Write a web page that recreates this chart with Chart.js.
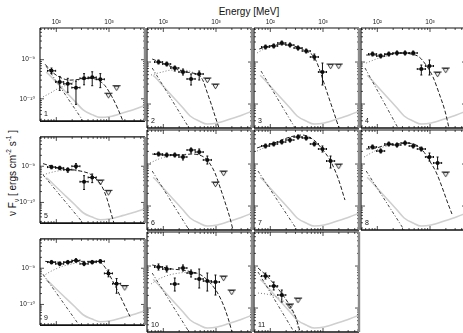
<!DOCTYPE html>
<html>
<head>
<meta charset="utf-8">
<script src="https://cdn.jsdelivr.net/npm/chart.js@4.4.0/dist/chart.umd.min.js"></script>
<style>
  body { margin: 0; background: #fff; width: 463px; height: 333px; overflow: hidden; position: relative;
         font-family: "Liberation Sans", Arial, sans-serif; color: #111; }
  canvas { position: absolute; }
  #xtitle { position: absolute; left: 249px; top: 11px; transform: translate(-50%, -50%);
            font-size: 10px; white-space: nowrap; }
  #ytitle { position: absolute; left: 12px; top: 173px; transform: translate(-50%, -50%) rotate(-90deg);
            font-size: 10px; white-space: nowrap; }
  sub, sup { font-size: 6.5px; line-height: 0; }
</style>
</head>
<body>
<div id="xtitle">Energy [MeV]</div>
<div id="ytitle">ν F<sub>ν</sub> [ ergs cm<sup>-2</sup> s<sup>-1</sup> ]</div>
<script>
// axis ranges and ticks
const X_MIN = 49, X_MAX = 4820;
const Y_MIN = 2.69e-11, Y_MAX = 6.46e-9;
const X_MAJOR = [100, 1000];
const X_LABELS = ['10²', '10³'];
const X_MINOR = [50, 60, 70, 80, 90, 200, 300, 400, 500, 600, 700, 800, 900, 2000, 3000, 4000];
const Y_MAJOR = [1e-10, 1e-9];
const Y_LABELS = ['10⁻¹⁰', '10⁻⁹'];
const Y_MINOR = [3e-11, 4e-11, 5e-11, 6e-11, 7e-11, 8e-11, 9e-11, 2e-10, 3e-10, 4e-10, 5e-10, 6e-10,
                 7e-10, 8e-10, 9e-10, 2e-9, 3e-9, 4e-9, 5e-9, 6e-9];

// energy bins (MeV)
const BIN_CENTER = [81, 116, 165, 236, 336, 480, 684, 976, 1392, 1986];
const BIN_LO = [68, 97, 138, 197, 281, 402, 573, 817, 1166, 1663];
const BIN_HI = [97, 138, 197, 281, 402, 573, 817, 1166, 1663, 2371];

// measured fluxes per panel (bins 0..n-1), with error bar ends
const FLUX = [
  [5.19e-10, 2.69e-10, 2.41e-10, 1.93e-10, 3.34e-10, 3.53e-10, 3.16e-10],
  [1.0e-9, 8.97e-10, 7.21e-10, 5.79e-10, 3.95e-10, 5.19e-10],
  [2.28e-9, 2.41e-9, 2.84e-9, 2.54e-9, 2.16e-9, 1.83e-9, 1.32e-9, 5.79e-10],
  [1.55e-9, 1.39e-9, 1.55e-9, 1.64e-9, 1.64e-9, 1.64e-9, 6.82e-10, 8.04e-10],
  [9.47e-10, 8.97e-10, 8.04e-10, 1.0e-9, 3.73e-10, 4.91e-10],
  [1.73e-9, 1.64e-9, 1.64e-9, 1.47e-9, 2.16e-9, 1.93e-9, 1.25e-9],
  [2.69e-9, 3.0e-9, 3.34e-9, 3.73e-9, 4.40e-9, 4.17e-9, 3.0e-9, 2.28e-9, 1.18e-9],
  [2.54e-9, 2.04e-9, 3.0e-9, 2.84e-9, 3.16e-9, 2.69e-9, 2.28e-9, 1.47e-9, 1.06e-9],
  [1.47e-9, 1.32e-9, 1.47e-9, 1.64e-9, 1.32e-9, 1.47e-9, 1.55e-9, 7.21e-10, 3.73e-10],
  [9.47e-10, 8.49e-10, 3.73e-10, 8.97e-10, 6.82e-10, 4.91e-10, 4.40e-10, 4.17e-10],
  [5.79e-10, 3.34e-10, 2.04e-10]
];
const FLUX_LO = [
  [4.40e-10, 1.64e-10, 1.47e-10, 7.21e-11, 2.28e-10, 2.16e-10, 1.93e-10],
  [8.97e-10, 8.04e-10, 6.11e-10, 4.91e-10, 2.84e-10, 3.73e-10],
  [2.04e-9, 2.16e-9, 2.54e-9, 2.28e-9, 1.93e-9, 1.64e-9, 1.12e-9, 2.84e-10],
  [1.39e-9, 1.25e-9, 1.39e-9, 1.47e-9, 1.47e-9, 1.47e-9, 4.91e-10, 4.91e-10],
  [8.49e-10, 8.04e-10, 6.82e-10, 8.49e-10, 2.28e-10, 3.53e-10],
  [1.55e-9, 1.47e-9, 1.47e-9, 1.25e-9, 1.83e-9, 1.73e-9, 1.0e-9],
  [2.41e-9, 2.69e-9, 3.0e-9, 3.34e-9, 3.94e-9, 3.73e-9, 2.69e-9, 1.93e-9, 8.04e-10],
  [2.28e-9, 1.83e-9, 2.69e-9, 2.54e-9, 2.84e-9, 2.41e-9, 2.04e-9, 1.18e-9, 7.61e-10],
  [1.32e-9, 1.18e-9, 1.32e-9, 1.47e-9, 1.18e-9, 1.32e-9, 1.39e-9, 5.79e-10, 2.04e-10],
  [8.04e-10, 7.21e-10, 2.54e-10, 7.61e-10, 5.48e-10, 3.0e-10, 2.54e-10, 2.04e-10],
  [4.91e-10, 2.69e-10, 1.39e-10]
];
const FLUX_HI = [
  [6.11e-10, 3.73e-10, 3.34e-10, 2.84e-10, 4.40e-10, 4.91e-10, 4.40e-10],
  [1.12e-9, 1.0e-9, 8.04e-10, 6.82e-10, 5.19e-10, 6.11e-10],
  [2.54e-9, 2.69e-9, 3.16e-9, 2.84e-9, 2.41e-9, 2.04e-9, 1.55e-9, 9.47e-10],
  [1.73e-9, 1.55e-9, 1.73e-9, 1.83e-9, 1.83e-9, 1.83e-9, 8.49e-10, 1.12e-9],
  [1.06e-9, 1.0e-9, 8.97e-10, 1.18e-9, 5.48e-10, 6.11e-10],
  [1.93e-9, 1.83e-9, 1.83e-9, 1.64e-9, 2.41e-9, 2.28e-9, 1.55e-9],
  [3.0e-9, 3.34e-9, 3.73e-9, 4.17e-9, 4.91e-9, 4.65e-9, 3.34e-9, 2.69e-9, 1.55e-9],
  [2.84e-9, 2.28e-9, 3.34e-9, 3.16e-9, 3.53e-9, 3.0e-9, 2.54e-9, 1.83e-9, 1.47e-9],
  [1.64e-9, 1.47e-9, 1.64e-9, 1.83e-9, 1.47e-9, 1.64e-9, 1.73e-9, 8.97e-10, 5.19e-10],
  [1.12e-9, 1.0e-9, 5.19e-10, 1.06e-9, 8.04e-10, 8.49e-10, 6.82e-10, 6.11e-10],
  [6.82e-10, 4.17e-10, 2.69e-10]
];

// upper limits: bin index and value
const UL_BIN = [[7, 8], [6, 7], [8, 9], [8, 9], [6, 7], [7, 8], [9], [9], [9], [8, 9], [3, 4]];
const UL_FLUX = [
  [1.39e-10, 2.16e-10], [4.17e-10, 3.0e-10], [8.97e-10, 8.97e-10], [5.79e-10, 7.21e-10],
  [4.17e-10, 2.16e-10], [3.73e-10, 6.82e-10], [1.0e-9], [6.46e-10], [3.34e-10],
  [5.79e-10, 2.69e-10], [1.25e-10, 1.73e-10]
];

// model curves [E, flux]
const TOTAL_MODEL = [
  [[61.5, 7.61e-10], [82.3, 4.91e-10], [118, 3.53e-10], [182, 3.0e-10], [282, 3.16e-10], [437, 3.34e-10],
   [622, 3.0e-10], [840, 2.16e-10], [1140, 1.12e-10], [1479, 5.48e-11], [1840, 2.69e-11]],
  [[61.5, 1.18e-9], [95.5, 9.47e-10], [147, 7.61e-10], [228, 6.11e-10], [350, 5.48e-10], [437, 5.19e-10],
   [496, 4.65e-10], [571, 3.53e-10], [676, 1.93e-10], [810, 1.0e-10], [958, 5.19e-11], [1140, 2.69e-11]],
  [[61.5, 2.04e-9], [95.5, 2.41e-9], [167, 2.69e-9], [282, 2.41e-9], [437, 1.93e-9], [676, 1.32e-9],
   [840, 7.21e-10], [1000, 3.73e-10], [1240, 1.64e-10], [1549, 7.21e-11], [2010, 2.69e-11]],
  [[61.5, 1.47e-9], [95.5, 1.47e-9], [167, 1.55e-9], [282, 1.64e-9], [437, 1.55e-9], [622, 1.32e-9],
   [840, 8.49e-10], [1140, 4.40e-10], [1479, 1.83e-10], [1925, 6.82e-11], [2290, 2.69e-11]],
  [[55.9, 1.18e-9], [82.3, 1.0e-9], [129, 8.49e-10], [200, 8.04e-10], [308, 7.21e-10], [437, 6.11e-10],
   [596, 4.17e-10], [742, 2.69e-10], [918, 1.25e-10], [1090, 5.19e-11], [1240, 2.69e-11]],
  [[61.5, 1.73e-9], [95.5, 1.64e-9], [147, 1.64e-9], [228, 1.64e-9], [337, 1.73e-9], [479, 1.64e-9],
   [622, 1.39e-9], [773, 1.0e-9], [958, 6.11e-10], [1189, 2.84e-10], [1479, 1.25e-10], [1840, 5.19e-11],
   [2100, 2.69e-11]],
  [[55.9, 2.41e-9], [82.3, 2.84e-9], [118, 3.16e-9], [182, 3.94e-9], [282, 4.65e-9], [404, 4.91e-9],
   [543, 4.40e-9], [742, 3.34e-9], [958, 2.28e-9], [1356, 1.25e-9], [1925, 4.65e-10], [2610, 1.39e-10]],
  [[61.5, 2.28e-9], [95.5, 2.41e-9], [147, 2.84e-9], [228, 3.0e-9], [350, 3.16e-9], [543, 2.84e-9],
   [742, 2.04e-9], [958, 1.25e-9], [1300, 6.46e-10], [1690, 2.84e-10], [2100, 1.32e-10], [2610, 6.46e-11]],
  [[61.5, 1.55e-9], [95.5, 1.47e-9], [147, 1.47e-9], [228, 1.55e-9], [350, 1.55e-9], [543, 1.55e-9],
   [676, 1.47e-9], [840, 1.06e-9], [1045, 6.11e-10], [1300, 3.34e-10], [1620, 1.73e-10], [2010, 8.97e-11],
   [2500, 4.65e-11]],
  [[61.5, 1.06e-9], [95.5, 9.47e-10], [147, 8.49e-10], [228, 8.04e-10], [350, 7.21e-10], [479, 6.46e-10],
   [622, 5.19e-10], [810, 3.73e-10], [1045, 2.41e-10], [1356, 1.25e-10], [1690, 5.79e-11], [2010, 2.69e-11]],
  [[58.4, 8.97e-10], [82.3, 6.11e-10], [118, 3.73e-10], [167, 2.16e-10], [237, 1.12e-10], [308, 5.79e-11],
   [368, 2.69e-11]]
];
const HUMP_MODEL = [
  [[55.9, 1.12e-10], [75.9, 1.39e-10], [108, 1.83e-10], [161, 2.28e-10], [228, 2.84e-10], [282, 3.1e-10]],
  [[58.4, 4.91e-10], [95.5, 5.79e-10], [147, 6.46e-10], [237, 6.46e-10], [350, 5.79e-10], [479, 4.65e-10]],
  [[55.9, 1.64e-9], [82.3, 2.16e-9], [129, 2.54e-9], [182, 2.69e-9]],
  [[61.5, 9.47e-10], [95.5, 1.18e-9], [174, 1.47e-9], [282, 1.64e-9]],
  [[55.9, 5.79e-10], [82.3, 6.82e-10], [129, 7.61e-10], [208, 7.61e-10], [308, 7.21e-10]],
  [[55.9, 1.06e-9], [82.3, 1.32e-9], [129, 1.55e-9], [200, 1.64e-9], [282, 1.73e-9]],
  [[55.9, 2.04e-9], [82.3, 2.54e-9], [129, 3.16e-9], [182, 3.73e-9]],
  [[55.9, 1.47e-9], [82.3, 1.93e-9], [129, 2.54e-9], [200, 2.84e-9]],
  [[55.9, 6.11e-10], [82.3, 8.49e-10], [129, 1.12e-9], [200, 1.32e-9], [282, 1.47e-9]],
  [[58.4, 3.73e-10], [82.3, 4.91e-10], [129, 6.11e-10], [200, 6.82e-10], [308, 7.21e-10]],
  [[58.4, 2.28e-10], [82.3, 2.16e-10], [118, 1.93e-10], [167, 1.55e-10], [237, 1.0e-10], [308, 5.19e-11],
   [350, 2.69e-11]]
];
const SOFT_MODEL = [
  [[64.1, 6.82e-10], [323, 2.69e-11]],
  [[61.5, 7.21e-10], [308, 2.69e-11]],
  [[66.6, 6.11e-10], [295, 2.69e-11]],
  [[58.4, 7.21e-10], [247, 2.69e-11]],
  [[55.9, 5.79e-10], [323, 2.69e-11]],
  [[61.5, 6.82e-10], [308, 2.69e-11]],
  [[58.4, 6.82e-10], [323, 2.69e-11]],
  [[61.5, 6.82e-10], [323, 2.69e-11]],
  [[55.9, 6.82e-10], [271, 2.69e-11]],
  [[61.5, 6.82e-10], [308, 2.69e-11]],
  [[58.4, 7.21e-10], [282, 2.69e-11]]
];
// sensitivity curve, same in every panel
const SENSITIVITY = [[64, 4.8e-10], [69.5, 4.40e-10], [103, 2.54e-10], [153, 1.47e-10], [228, 8.49e-11],
  [323, 5.19e-11], [479, 3.94e-11], [680, 3.34e-11], [1055, 3.53e-11], [1866, 4.40e-11], [3160, 5.48e-11],
  [4900, 6.82e-11]];

// panel grid
const COL_LEFT = [40, 147, 254, 361];
const ROW_TOP = [28, 130, 232];
const PANEL_W = 105, PANEL_H = 100;

Chart.defaults.font.family = '"Liberation Sans", Arial, "DejaVu Sans", sans-serif';

// upper limit glyph: open triangle hanging below the point
const ulGlyph = document.createElement('canvas');
ulGlyph.width = 7; ulGlyph.height = 14;
(() => {
  const g = ulGlyph.getContext('2d');
  g.strokeStyle = '#222'; g.lineWidth = 0.9;
  g.beginPath(); g.moveTo(0.9, 7.6); g.lineTo(6.1, 7.6); g.lineTo(3.5, 11.8); g.closePath(); g.stroke();
})();

const toXY = pts => pts.map(p => ({ x: p[0], y: p[1] }));

const panelDeco = {
  id: 'panelDeco',
  afterDatasetsDraw(chart, args, opts) {
    const i = opts.index;
    const { ctx, chartArea: a, scales: { x, y } } = chart;
    const seg = (x1, y1, x2, y2) => { ctx.beginPath(); ctx.moveTo(x1, y1); ctx.lineTo(x2, y2); ctx.stroke(); };
    ctx.save();
    ctx.beginPath(); ctx.rect(a.left, a.top, a.width, a.height); ctx.clip();
    ctx.strokeStyle = '#111'; ctx.lineWidth = 1;
    FLUX[i].forEach((f, k) => {
      const px = x.getPixelForValue(BIN_CENTER[k]), py = y.getPixelForValue(f);
      const x1 = x.getPixelForValue(BIN_LO[k]), x2 = x.getPixelForValue(BIN_HI[k]);
      const y1 = y.getPixelForValue(FLUX_HI[i][k]), y2 = y.getPixelForValue(FLUX_LO[i][k]);
      seg(x1, py, x2, py); seg(px, y1, px, y2);
      seg(x1, py - 1, x1, py + 1); seg(x2, py - 1, x2, py + 1);
      seg(px - 1, y1, px + 1, y1); seg(px - 1, y2, px + 1, y2);
    });
    ctx.lineWidth = 0.9;
    UL_BIN[i].forEach((k, j) => {
      const py = y.getPixelForValue(UL_FLUX[i][j]);
      seg(x.getPixelForValue(BIN_LO[k]), py, x.getPixelForValue(BIN_HI[k]), py);
    });
    ctx.restore();
  },
  afterDraw(chart, args, opts) {
    const { ctx, chartArea: a, scales: { x, y } } = chart;
    const seg = (x1, y1, x2, y2) => { ctx.beginPath(); ctx.moveTo(x1, y1); ctx.lineTo(x2, y2); ctx.stroke(); };
    ctx.save();
    // inward tick marks
    ctx.strokeStyle = '#222'; ctx.lineWidth = 0.8;
    const xt = (v, len) => { const p = x.getPixelForValue(v); seg(p, a.bottom, p, a.bottom - len); seg(p, a.top, p, a.top + len); };
    const yt = (v, len) => { const p = y.getPixelForValue(v); seg(a.left, p, a.left + len, p); seg(a.right, p, a.right - len, p); };
    X_MAJOR.forEach(v => xt(v, 4)); X_MINOR.forEach(v => xt(v, 2));
    Y_MAJOR.forEach(v => yt(v, 4)); Y_MINOR.forEach(v => yt(v, 2));
    // frame
    ctx.strokeStyle = '#111'; ctx.lineWidth = 1.2;
    seg(a.left, a.top, a.right, a.top);
    ctx.lineWidth = 1.6; seg(a.left, a.bottom, a.right, a.bottom);
    ctx.lineWidth = 1.1; seg(a.left, a.top, a.left, a.bottom);
    ctx.strokeStyle = '#8a8a8a'; ctx.lineWidth = 2.4; seg(a.right, a.top, a.right, a.bottom);
    // panel number
    ctx.fillStyle = '#111';
    ctx.font = '7px "Liberation Sans", Arial, sans-serif';
    ctx.textAlign = 'left'; ctx.textBaseline = 'alphabetic';
    ctx.fillText(String(opts.index + 1), a.left + 4, a.bottom - 5);
    ctx.restore();
  }
};

function makePanel(i) {
  const row = Math.floor(i / 4), col = i % 4;
  const showX = row === 0, showY = col === 0;
  const marginL = showY ? 40 : 2, marginT = showX ? 28 : 2;
  const canvas = document.createElement('canvas');
  const w = marginL + PANEL_W + 2, h = marginT + PANEL_H + 2;
  canvas.width = w; canvas.height = h;
  canvas.style.width = w + 'px'; canvas.style.height = h + 'px';
  canvas.style.left = (COL_LEFT[col] - marginL) + 'px';
  canvas.style.top = (ROW_TOP[row] - marginT) + 'px';
  document.body.appendChild(canvas);

  const curve = (pts, color, width, dash) => ({
    data: toXY(pts), showLine: true, pointRadius: 0, borderColor: color, borderWidth: width,
    borderDash: dash, cubicInterpolationMode: 'monotone', clip: 0
  });

  return new Chart(canvas, {
    type: 'scatter',
    data: {
      datasets: [
        { data: FLUX[i].map((f, k) => ({ x: BIN_CENTER[k], y: f })), pointRadius: 2,
          pointBackgroundColor: '#000', pointBorderWidth: 0 },
        { data: UL_BIN[i].map((k, j) => ({ x: BIN_CENTER[k], y: UL_FLUX[i][j] })), pointStyle: ulGlyph,
          pointRadius: 3 },
        curve(TOTAL_MODEL[i], '#222', 1, [4, 2]),
        curve(HUMP_MODEL[i], '#777', 1, [1, 2]),
        curve(SOFT_MODEL[i], '#333', 0.9, [3, 2, 1, 2]),
        curve(SENSITIVITY, '#cfcfcf', 1.6, [])
      ]
    },
    options: {
      responsive: false,
      animation: false,
      devicePixelRatio: 1,
      layout: { padding: 2, autoPadding: false },
      plugins: { legend: { display: false }, tooltip: { enabled: false }, panelDeco: { index: i } },
      scales: {
        x: {
          type: 'logarithmic', position: 'top', min: X_MIN, max: X_MAX, bounds: 'data', display: showX,
          grid: { display: false, drawTicks: false }, border: { display: false },
          afterBuildTicks: s => { s.ticks = X_MAJOR.map(v => ({ value: v })); },
          afterFit: s => { if (showX) s.height = 26; },
          ticks: { autoSkip: false, maxRotation: 0, padding: 2, color: '#222', font: { size: 6.5 },
                   callback: (v, k) => X_LABELS[k] }
        },
        y: {
          type: 'logarithmic', position: 'left', min: Y_MIN, max: Y_MAX, bounds: 'data', display: showY,
          grid: { display: false, drawTicks: false }, border: { display: false },
          afterBuildTicks: s => { s.ticks = Y_MAJOR.map(v => ({ value: v })); },
          afterFit: s => { if (showY) s.width = 38; },
          ticks: { autoSkip: false, padding: 5, color: '#222', font: { size: 6.5 },
                   callback: (v, k) => Y_LABELS[k] }
        }
      }
    },
    plugins: [panelDeco]
  });
}

for (let i = 0; i < TOTAL_MODEL.length; i++) makePanel(i);
</script>
</body>
</html>
